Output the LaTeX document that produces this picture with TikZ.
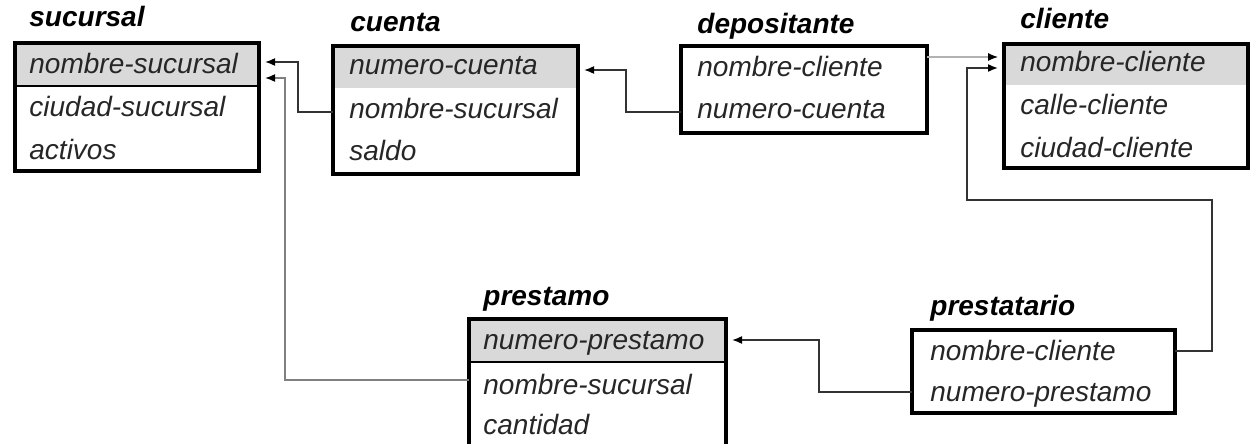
\documentclass[tikz,border=0pt]{standalone}
\usepackage{fontspec}
\setmainfont{Liberation Sans}
\usetikzlibrary{calc,backgrounds,arrows.meta}

\definecolor{clavegris}{RGB}{217,217,217}
\tikzset{
  tabla/.style={draw, line width=2.3pt, rectangle, anchor=north west, outer sep=0pt, inner sep=0pt},
  titulo/.style={anchor=west, inner sep=0pt, font=\fontsize{14}{16}\selectfont\bfseries\itshape, text height=10pt, text depth=3pt},
  campo/.style={anchor=west, inner sep=0pt, font=\fontsize{14}{16}\selectfont\itshape, text=black!85, text height=10pt, text depth=3pt},
  enlace/.style={line width=0.8pt, black!80, -{Latex[length=5pt,width=4pt,color=black]}, shorten >=3pt},
}

\begin{document}
\begin{tikzpicture}[x=0.5pt,y=-0.5pt]
    \useasboundingbox (0,0) rectangle (1252,444);
    \clip (0,0) rectangle (1252,444);
    % sucursal
    \node[tabla, minimum width=122pt, minimum height=64pt] (sucursal) at (15,43) {};
    \node[titulo] (tsuc) at (29,20) {sucursal};
    \node[campo] (suc1) at (29,67) {nombre-sucursal};
    \node[campo] (suc2) at (29,110) {ciudad-sucursal};
    \node[campo] (suc3) at (29,152) {activos};
    % cuenta
    \node[tabla, minimum width=122.5pt, minimum height=64pt] (cuenta) at (333,46) {};
    \node[titulo] (tcta) at (350,25) {cuenta};
    \node[campo] (cta1) at (349,68) {numero-cuenta};
    \node[campo] (cta2) at (349,112) {nombre-sucursal};
    \node[campo] (cta3) at (349,153) {saldo};
    % depositante
    \node[tabla, minimum width=123pt, minimum height=43.5pt] (depositante) at (681,46) {};
    \node[titulo] (tdep) at (697,27) {depositante};
    \node[campo] (dep1) at (697,70) {nombre-cliente};
    \node[campo] (dep2) at (697,112) {numero-cuenta};
    % cliente
    \node[tabla, minimum width=122pt, minimum height=62pt] (cliente) at (1004,44) {};
    \node[titulo] (tcli) at (1020,22) {cliente};
    \node[campo] (cli1) at (1020,65) {nombre-cliente};
    \node[campo] (cli2) at (1020,107) {calle-cliente};
    \node[campo] (cli3) at (1020,150) {ciudad-cliente};
    % prestamo
    \node[tabla, minimum width=128.5pt, minimum height=75.5pt] (prestamo) at (469,319) {};
    \node[titulo] (tpre) at (483,298) {prestamo};
    \node[campo] (pre1) at (483,342) {numero-prestamo};
    \node[campo] (pre2) at (483,387) {nombre-sucursal};
    \node[campo] (pre3) at (483,427) {cantidad};
    % prestatario
    \node[tabla, minimum width=131.5pt, minimum height=41.5pt] (prestatario) at (912,330) {};
    \node[titulo] (tpta) at (930,308) {prestatario};
    \node[campo] (pta1) at (930,353) {nombre-cliente};
    \node[campo] (pta2) at (930,394) {numero-prestamo};

    % claves
    \begin{scope}[on background layer]
      \fill[clavegris] (sucursal.north west) rectangle (sucursal.east |- 0,86);
      \fill[clavegris] (cuenta.north west) rectangle (cuenta.east |- 0,88);
      \fill[clavegris] (cliente.north west) rectangle (cliente.east |- 0,85);
      \fill[clavegris] (prestamo.north west) rectangle (prestamo.east |- 0,362);
    \end{scope}
    \draw[line width=0.8pt] (sucursal.west |- 0,86) -- (sucursal.east |- 0,86);
    \draw[line width=0.8pt] (prestamo.west |- 0,362) -- (prestamo.east |- 0,362);

    % enlaces
    \draw[enlace] (cuenta.west |- cta2) -- ++(-35,0) |- ($(sucursal.east |- suc1)+(0,-5)$);
    \draw[enlace, black!50] ($(prestamo.west |- pre2)+(0,-7)$) -- ++(-184,0) |- ($(sucursal.east |- suc1)+(0,11)$);
    \draw[enlace] (depositante.west |- dep2) -- ++(-55,0) |- ($(cuenta.east |- cta1)+(0,2)$);
    \draw[enlace, black!30, line width=0.6pt] ($(depositante.east |- dep1)+(0,-13)$) -- ($(cliente.west |- dep1)+(0,-13)$);
    \draw[enlace] ($(prestatario.east |- pta1)+(0,-2)$) -- ++(37,0) -- ++(0,-151) -- ++(-245,0) |- ($(cliente.west |- cli1)+(0,3)$);
    \draw[enlace] ($(prestatario.west |- pta2)+(0,-2)$) -- ++(-93,0) |- ($(prestamo.east |- pre1)+(0,-2)$);
\end{tikzpicture}
\end{document}
